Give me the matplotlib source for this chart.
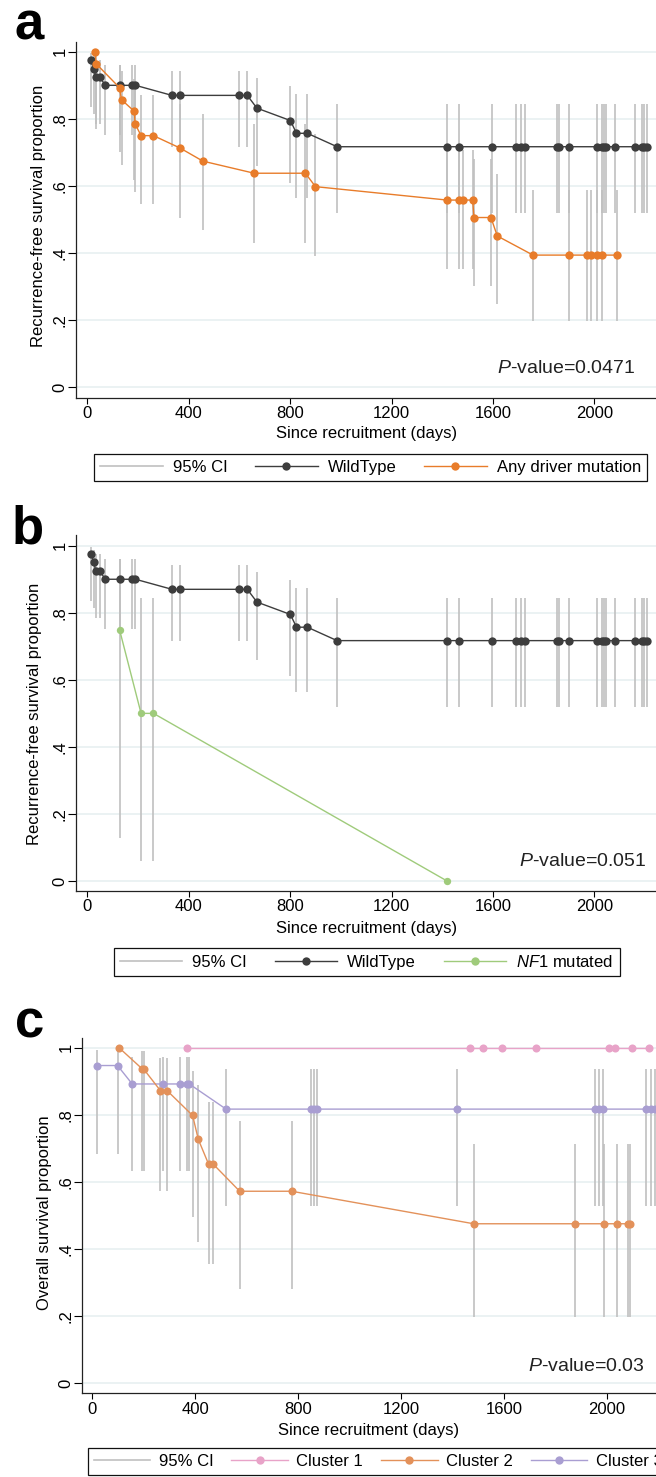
import numpy as np
import matplotlib
matplotlib.use("Agg")
import matplotlib.pyplot as plt
from matplotlib.lines import Line2D

plt.rcParams["font.family"] = ["Liberation Sans", "DejaVu Sans"]
plt.rcParams["mathtext.fontset"] = "custom"
plt.rcParams["mathtext.rm"] = "Liberation Sans"
plt.rcParams["mathtext.it"] = "Liberation Sans:italic"

W, H = 656, 1477
nan = np.nan

# ------------------------------
# data (days, survival, 95% CI)
# ------------------------------
wt_t = [14, 26, 33, 49, 71, 127, 177, 190, 334, 367, 597, 631, 669, 801, 825, 868,
        985, 1419, 1466, 1595, 1690, 1710, 1728, 1852, 1862, 1900, 2009, 2029, 2038,
        2047, 2083, 2162, 2187, 2196, 2207]
wt_s = [0.975, 0.950, 0.925, 0.925, 0.900, 0.900, 0.900, 0.900, 0.870, 0.870, 0.870,
        0.870, 0.832, 0.795, 0.757, 0.757] + [0.717] * 19
wt_lo = [0.835, 0.815, 0.785, 0.785, 0.753, 0.753, 0.753, 0.753, 0.715, 0.715, 0.715,
         0.715, 0.659, 0.610, 0.565, 0.565] + [0.518] * 19
wt_hi = [0.996, 0.988, 0.975, 0.975, 0.960, 0.960, 0.960, 0.960, 0.943, 0.943, 0.943,
         0.943, 0.922, 0.898, 0.875, 0.875] + [0.844] * 19

drv_t = [31, 34, 127, 135, 186, 188, 212, 261, 366, 456, 658, 860, 900, 1419, 1466,
         1481, 1520, 1525, 1592, 1617, 1758, 1900, 1970, 1988, 2012, 2029, 2088]
drv_s = [1.0, 0.965, 0.893, 0.857, 0.822, 0.786, 0.750, 0.750, 0.713, 0.674, 0.638,
         0.638, 0.598, 0.558, 0.558, 0.558, 0.558, 0.506, 0.506, 0.451] + [0.394] * 7
drv_lo = [nan, 0.771, 0.702, 0.663, 0.618, 0.583, 0.547, 0.547, 0.506, 0.469, 0.430,
          0.430, 0.391, 0.354, 0.354, 0.354, 0.354, 0.303, 0.303, 0.247] + [0.198] * 7
drv_hi = [nan, 0.995, 0.962, 0.942, 0.919, 0.895, 0.871, 0.871, 0.844, 0.816, 0.785,
          0.785, 0.754, 0.707, 0.707, 0.707, 0.707, 0.679, 0.679, 0.635] + [0.588] * 7

nf1_t = [127, 212, 261, 1419]
nf1_s = [0.75, 0.50, 0.50, 0.0]
nf1_lo = [0.129, 0.060, 0.060, nan]
nf1_hi = [0.959, 0.843, 0.843, nan]

c1_t = [368, 1470, 1520, 1594, 1726, 2009, 2032, 2097, 2166]
c1_s = [1.0] * 9

c2_t = [104, 194, 199, 265, 291, 390, 412, 452, 470, 573, 775, 1483, 1877, 1991,
        2039, 2082, 2091]
c2_s = [1.0, 0.937, 0.937, 0.872, 0.872, 0.798, 0.727, 0.653, 0.653, 0.572,
        0.572] + [0.475] * 6
c2_lo = [nan, 0.632, 0.632, 0.574, 0.574, 0.494, 0.421, 0.355, 0.355, 0.280,
         0.280] + [0.196] * 6
c2_hi = [nan, 0.991, 0.991, 0.968, 0.968, 0.930, 0.889, 0.839, 0.839, 0.782,
         0.782] + [0.713] * 6

c3_t = [18, 98, 155, 276, 342, 369, 377, 520, 849, 863, 875, 1418, 1954, 1971,
        1987, 2155, 2172, 2188]
c3_s = [0.947, 0.947] + [0.892] * 5 + [0.817] * 11
c3_lo = [0.682, 0.682] + [0.632] * 5 + [0.528] * 11
c3_hi = [0.992, 0.992] + [0.971] * 5 + [0.938] * 11

xticks = [0, 400, 800, 1200, 1600, 2000]
yticks = [0, 0.2, 0.4, 0.6, 0.8, 1.0]
ytick_labels = ["0", ".2", ".4", ".6", ".8", "1"]

CI_COL = "#c0c0c0"
WT_COL = "#3d3d3d"
DRV_COL = "#e87c2a"
NF1_COL = "#9fcb7b"
C1_COL = "#e8a3c8"
C2_COL = "#e3915a"
C3_COL = "#a99ed2"
FS = 12

fig = plt.figure(figsize=(W / 100, H / 100), dpi=100)


def ftext(x, y, s, **kw):
    fig.text(x / W, 1 - y / H, s, **kw)


def make_axes(left, top, bottom, xlim, ylim):
    ax = fig.add_axes([left / W, 1 - bottom / H, (W - left) / W, (bottom - top) / H])
    ax.set_xlim(*xlim)
    ax.set_ylim(*ylim)
    ax.set_xticks(xticks)
    ax.set_yticks(yticks)
    ax.set_yticklabels(ytick_labels)
    ax.tick_params(axis="y", length=5.8, width=0.8, pad=0.4, labelsize=FS)
    ax.tick_params(axis="x", length=4.1, width=0.8, pad=2, labelsize=FS)
    for lab in ax.get_yticklabels():
        lab.set_rotation(90)
        lab.set_va("center")
    ax.spines["top"].set_visible(False)
    ax.spines["right"].set_visible(False)
    for sp in ("left", "bottom"):
        ax.spines[sp].set_linewidth(0.9)
        ax.spines[sp].set_color("#222222")
    ax.yaxis.grid(True, color="#e9f1f2", lw=1.3)
    ax.set_axisbelow(True)
    return ax


def ci(ax, t, lo, hi):
    t = np.array(t, float)
    lo = np.array(lo, float)
    hi = np.array(hi, float)
    m = ~np.isnan(lo)
    ax.vlines(t[m], lo[m], hi[m], color=CI_COL, lw=1.2, zorder=1)


def curve(ax, t, s, col, ms):
    ax.plot(t, s, "-o", color=col, lw=1.0, ms=ms, mew=0, zorder=3)


def legend(ax, entries, anchor, loc, hlen, hpad, cspace):
    handles = [Line2D([], [], color=CI_COL, lw=1.2)]
    labels = ["95% CI"]
    for lab, col in entries:
        handles.append(Line2D([], [], color=col, lw=1.0, marker="o", ms=6, mew=0))
        labels.append(lab)
    leg = ax.legend(handles, labels, loc=loc, bbox_to_anchor=(anchor[0] / W, 1 - anchor[1] / H),
                    bbox_transform=fig.transFigure, ncol=len(labels), fontsize=FS,
                    frameon=True, fancybox=False, framealpha=1, edgecolor="#111111",
                    handlelength=hlen, handletextpad=hpad, columnspacing=cspace,
                    borderpad=0.36, borderaxespad=0, numpoints=1)
    leg.get_frame().set_linewidth(0.9)


# ------------------------------
# panel a
# ------------------------------
ax_a = make_axes(76.3, 41.7, 397.7, (-43.4, 2243), (-0.031, 1.03))
ci(ax_a, wt_t, wt_lo, wt_hi)
ci(ax_a, drv_t, drv_lo, drv_hi)
curve(ax_a, wt_t, wt_s, WT_COL, 6)
curve(ax_a, drv_t, drv_s, DRV_COL, 6)
ax_a.text(2160, 0.057, r"$\it{P}$-value=0.0471", ha="right", va="center", fontsize=14, color="#222222")
ftext(366.7, 433.3, "Since recruitment (days)", ha="center", va="center", fontsize=FS)
ftext(38.3, 216, "Recurrence-free survival proportion", ha="center", va="center",
      rotation=90, fontsize=FS)
ftext(14, 39, "a", fontsize=38, fontweight="bold", ha="left", va="baseline")
legend(ax_a, [("WildType", WT_COL), ("Any driver mutation", DRV_COL)], (370.5, 467.8),
       "center", 3.75, 0.6, 1.67)

# ------------------------------
# panel b
# ------------------------------
ax_b = make_axes(76.3, 535, 891, (-43.4, 2243), (-0.0298, 1.032))
ci(ax_b, wt_t, wt_lo, wt_hi)
ci(ax_b, nf1_t, nf1_lo, nf1_hi)
curve(ax_b, wt_t, wt_s, WT_COL, 6)
curve(ax_b, nf1_t, nf1_s, NF1_COL, 5.3)
ax_b.text(2204, 0.058, r"$\it{P}$-value=0.051", ha="right", va="center", fontsize=14, color="#222222")
ftext(366.7, 928.3, "Since recruitment (days)", ha="center", va="center", fontsize=FS)
ftext(35, 714, "Recurrence-free survival proportion", ha="center", va="center",
      rotation=90, fontsize=FS)
ftext(12, 544, "b", fontsize=38, fontweight="bold", ha="left", va="baseline")
legend(ax_b, [("WildType", WT_COL), (r"$\it{NF1}$ mutated", NF1_COL)], (366.7, 961.7),
       "center", 3.75, 0.6, 1.67)

# ------------------------------
# panel c
# ------------------------------
ax_c = make_axes(82.3, 1037.7, 1393.3, (-39, 2192), (-0.0307, 1.03))
ci(ax_c, c3_t, c3_lo, c3_hi)
ci(ax_c, c2_t, c2_lo, c2_hi)
curve(ax_c, c1_t, c1_s, C1_COL, 5.8)
curve(ax_c, c3_t, c3_s, C3_COL, 5.8)
curve(ax_c, c2_t, c2_s, C2_COL, 5.8)
ax_c.text(2149, 0.049, r"$\it{P}$-value=0.03", ha="right", va="center", fontsize=14, color="#222222")
ftext(369, 1430.3, "Since recruitment (days)", ha="center", va="center", fontsize=FS)
ftext(45, 1212.5, "Overall survival proportion", ha="center", va="center",
      rotation=90, fontsize=FS)
ftext(15, 1037.5, "c", fontsize=38, fontweight="bold", ha="left", va="baseline")
legend(ax_c, [("Cluster 1", C1_COL), ("Cluster 2", C2_COL), ("Cluster 3", C3_COL)],
       (87.7, 1448.3), "upper left", 3.4, 0.5, 1.07)

fig.savefig("out.png", dpi=100)
